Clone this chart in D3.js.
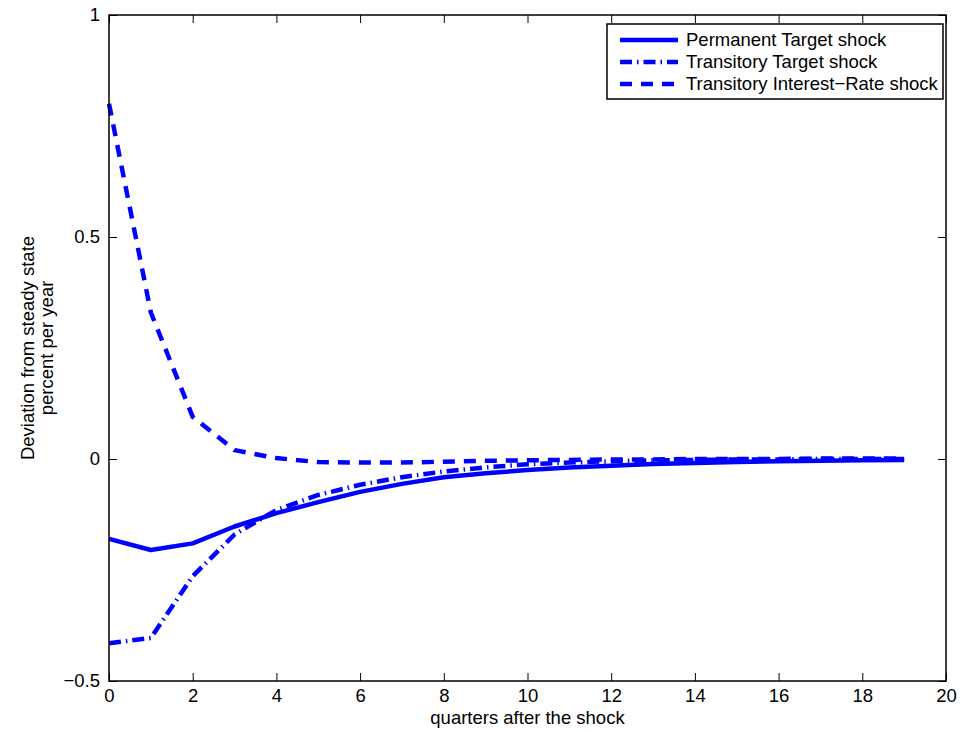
<!DOCTYPE html>
<html>
<head>
<meta charset="utf-8">
<script src="https://cdn.jsdelivr.net/npm/d3@7"></script>
<style>
  html, body { margin: 0; padding: 0; background: #fff; }
  svg { display: block; }
  text { font-family: "Liberation Sans", Arial, sans-serif; fill: #000; }
</style>
</head>
<body>
<svg id="chart" width="964" height="732"></svg>
<script>
// Impulse responses, quarters 0..19
const quarters = d3.range(0, 20);
const permanentTarget = [-0.180, -0.205, -0.190, -0.152, -0.122, -0.097, -0.074, -0.056, -0.041, -0.032,
                         -0.025, -0.019, -0.015, -0.011, -0.009, -0.007, -0.005, -0.004, -0.003, -0.002];
const transitoryTarget = [-0.415, -0.403, -0.264, -0.170, -0.115, -0.081, -0.058, -0.041, -0.028, -0.019,
                          -0.012, -0.008, -0.005, -0.003, -0.002, -0.001, -0.001, 0.000, 0.000, 0.000];
const transitoryRate = [0.800, 0.330, 0.095, 0.020, 0.002, -0.007, -0.008, -0.008, -0.006, -0.004,
                        -0.003, -0.002, -0.001, -0.001, 0.000, 0.000, 0.000, 0.001, 0.001, 0.001];

const seriesNames = ["Permanent Target shock", "Transitory Target shock", "Transitory Interest\u2212Rate shock"];
const xTicks = [0, 2, 4, 6, 8, 10, 12, 14, 16, 18, 20];
const yTicks = [-0.5, 0, 0.5, 1];
const yTickLabels = ["\u22120.5", "0", "0.5", "1"];

const series = [
  { name: seriesNames[0], values: permanentTarget, dash: null },
  { name: seriesNames[1], values: transitoryTarget, dash: "12,5,1.5,5" },
  { name: seriesNames[2], values: transitoryRate, dash: "12,9" }
];

const svg = d3.select("#chart");
const margin = { left: 109, right: 18, top: 15, bottom: 51 };
const W = 964, H = 732;
const x = d3.scaleLinear().domain([0, 20]).range([margin.left, W - margin.right]);
const y = d3.scaleLinear().domain([-0.5, 1]).range([H - margin.bottom, margin.top]);

const blue = "#0000ff";
const tickLen = 8;

// Data lines
const line = d3.line().x((d, i) => x(quarters[i])).y(d => y(d));
const plot = svg.append("g");
series.forEach(s => {
  plot.append("path")
    .datum(s.values)
    .attr("d", line)
    .attr("fill", "none")
    .attr("stroke", blue)
    .attr("stroke-width", 4.5)
    .attr("stroke-linejoin", "round")
    .attr("stroke-dasharray", s.dash);
});

// Axes: ticks pointing inward on all four sides, labels on bottom and left
const fontSize = 18.5;
const xAxisB = d3.axisBottom(x).tickValues(xTicks).tickSizeInner(-tickLen).tickSizeOuter(0).tickPadding(8).tickFormat(d3.format("d"));
const xAxisT = d3.axisTop(x).tickValues(xTicks).tickSizeInner(-tickLen).tickSizeOuter(0).tickFormat("");
const yAxisL = d3.axisLeft(y).tickValues(yTicks).tickSizeInner(-tickLen).tickSizeOuter(0).tickPadding(9)
  .tickFormat((d, i) => yTickLabels[i]);
const yAxisR = d3.axisRight(y).tickValues(yTicks).tickSizeInner(-tickLen).tickSizeOuter(0).tickFormat("");

function style(g) {
  g.select(".domain").remove();
  g.selectAll(".tick line").attr("stroke", "#000").attr("stroke-width", 1);
  g.selectAll(".tick text").style("font-size", fontSize + "px").attr("font-family", "Liberation Sans, Arial, sans-serif").attr("fill", "#000");
}
svg.append("g").attr("transform", `translate(0,${y(-0.5)})`).call(xAxisB).call(style);
svg.append("g").attr("transform", `translate(0,${y(1)})`).call(xAxisT).call(style);
svg.append("g").attr("transform", `translate(${x(0)},0)`).call(yAxisL).call(style);
svg.append("g").attr("transform", `translate(${x(20)},0)`).call(yAxisR).call(style);

// Plot frame
svg.append("rect")
  .attr("x", x(0)).attr("y", y(1))
  .attr("width", x(20) - x(0)).attr("height", y(-0.5) - y(1))
  .attr("fill", "none").attr("stroke", "#000").attr("stroke-width", 1.5);

// Axis titles
svg.append("text")
  .attr("x", (x(0) + x(20)) / 2).attr("y", 724)
  .attr("text-anchor", "middle").style("font-size", fontSize + "px")
  .text("quarters after the shock");

const yMid = (y(1) + y(-0.5)) / 2;
const yTitle = svg.append("text")
  .attr("transform", `translate(34,${yMid}) rotate(-90)`)
  .attr("text-anchor", "middle").style("font-size", fontSize + "px");
yTitle.append("tspan").attr("x", 0).attr("dy", 0).text("Deviation from steady state");
yTitle.append("tspan").attr("x", 0).attr("dy", 19).text("percent per year");

// Legend
const lg = svg.append("g");
const lgX = 607, lgY = 24, lgW = 336, lgH = 75;
lg.append("rect").attr("x", lgX).attr("y", lgY).attr("width", lgW).attr("height", lgH)
  .attr("fill", "#fff").attr("stroke", "#000").attr("stroke-width", 1.5);
series.forEach((s, i) => {
  const cy = 40 + i * 22;
  lg.append("line").attr("x1", 620).attr("x2", 678).attr("y1", cy).attr("y2", cy)
    .attr("stroke", blue).attr("stroke-width", 4.5).attr("stroke-dasharray", s.dash);
  lg.append("text").attr("x", 686).attr("y", cy).attr("dy", "0.35em")
    .style("font-size", fontSize + "px").text(s.name);
});
</script>
</body>
</html>
